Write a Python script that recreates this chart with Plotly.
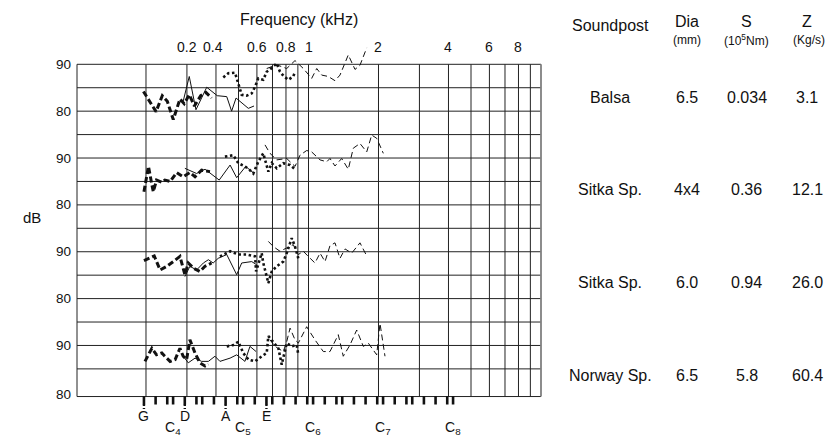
import math
import plotly.graph_objects as go

# ---------------- data ----------------
grid_khz = [0.2, 0.3, 0.4, 0.5, 0.6, 0.7, 0.8, 0.9, 1, 2, 3, 4, 5, 6, 7, 8, 9, 10]
grid_db = [90, 85, 80, 75, 70, 65, 60, 55, 50, 45, 40, 35, 30, 25, 19.1]
top_tick_text = ["0.2", "0.4", "0.6", "0.8", "1", "2", "4", "6", "8"]
top_tick_pos_khz = [0.3, 0.39, 0.6, 0.8, 1, 2, 4, 6, 8]
ytick_text = ["90", "80", "90", "80", "90", "80", "90", "80"]
ytick_pos = [90, 80, 70, 60, 50, 40, 30, 19.6]

# white piano keys G3 .. C8 (kHz)
key_khz = [0.196, 0.220, 0.2469, 0.2616, 0.2937, 0.3296, 0.3492, 0.392, 0.440, 0.4939,
           0.5233, 0.5873, 0.6593, 0.6985, 0.784, 0.880, 0.9878, 1.0465, 1.1747, 1.3185,
           1.3969, 1.568, 1.760, 1.9755, 2.093, 2.349, 2.637, 2.794, 3.136, 3.520, 3.951, 4.186]
open_string_names = ["G", "D", "A", "E"]
open_string_khz = [0.196, 0.2937, 0.440, 0.6593]
c_note_names = ["C<sub>4</sub>", "C<sub>5</sub>", "C<sub>6</sub>", "C<sub>7</sub>", "C<sub>8</sub>"]
c_note_khz = [0.2616, 0.5233, 1.0465, 2.093, 4.186]

soundposts = ["Balsa", "Sitka Sp.", "Sitka Sp.", "Norway Sp."]
dia = ["6.5", "4x4", "6.0", "6.5"]
stiffness = ["0.034", "0.36", "0.94", "5.8"]
impedance = ["3.1", "12.1", "26.0", "60.4"]

balsa_low_khz = [0.195, 0.221, 0.235, 0.247, 0.262, 0.280, 0.292, 0.307, 0.323, 0.344, 0.362, 0.383]
balsa_low_db = [84.2, 79.9, 83.3, 82.1, 78.2, 82.6, 81.6, 83.5, 81.1, 83.3, 84.0, 82.8]
balsa_mid_khz = [0.289, 0.307, 0.328, 0.365, 0.405, 0.445, 0.467, 0.488, 0.551, 0.583]
balsa_mid_db = [82.1, 87.4, 80.3, 85.1, 83.3, 83.1, 80.0, 82.8, 80.6, 81.1]
balsa_upper_khz = [0.430, 0.452, 0.483, 0.499, 0.516, 0.542, 0.570, 0.589, 0.608, 0.639, 0.661, 0.683, 0.730, 0.754, 0.785, 0.819, 0.860, 0.875]
balsa_upper_db = [87.2, 88.1, 88.2, 86.0, 83.5, 83.3, 83.8, 85.2, 87.0, 86.7, 88.4, 88.9, 90.2, 88.4, 87.4, 86.7, 87.4, 88.4]
balsa_high_khz = [0.661, 0.730, 0.806, 0.875, 0.950, 1.032, 1.085, 1.140, 1.217, 1.300, 1.366, 1.411, 1.483, 1.585, 1.665, 1.780]
balsa_high_db = [89.1, 89.9, 89.1, 90.8, 89.1, 87.0, 89.1, 87.7, 87.4, 86.5, 87.7, 89.5, 92.0, 88.9, 89.8, 93.5]

sitka44_low_khz = [0.196, 0.205, 0.212, 0.215, 0.222, 0.234, 0.241, 0.254, 0.271, 0.289, 0.309, 0.325, 0.347, 0.377]
sitka44_low_db = [82.8, 88.2, 84.3, 82.8, 85.3, 84.8, 85.3, 85.0, 86.9, 86.0, 86.9, 86.0, 87.4, 87.1]
sitka44_mid_khz = [0.294, 0.330, 0.359, 0.413, 0.460, 0.491, 0.537, 0.583]
sitka44_mid_db = [87.8, 86.7, 87.6, 85.3, 88.5, 85.8, 88.2, 86.7]
sitka44_upper_khz = [0.437, 0.475, 0.499, 0.533, 0.560, 0.579, 0.608, 0.639, 0.672, 0.695, 0.730, 0.779, 0.833, 0.875]
sitka44_upper_db = [90.3, 90.6, 88.9, 88.2, 87.4, 86.7, 89.2, 91.0, 87.1, 88.9, 87.8, 88.9, 88.5, 87.6]
sitka44_high_khz = [0.650, 0.683, 0.730, 0.806, 0.875, 0.919, 0.982, 1.032, 1.121, 1.198, 1.237, 1.300, 1.389, 1.483, 1.558, 1.665, 1.780, 1.870, 1.965, 2.098]
sitka44_high_db = [92.8, 91.0, 89.6, 89.9, 88.2, 90.6, 91.6, 91.3, 89.6, 89.2, 89.9, 88.3, 89.9, 87.6, 92.1, 93.1, 91.3, 94.9, 94.2, 91.0]

sitka60_low_khz = [0.196, 0.217, 0.230, 0.246, 0.262, 0.280, 0.294, 0.304, 0.320, 0.341, 0.359, 0.383]
sitka60_low_db = [88.1, 89.1, 86.1, 86.9, 87.9, 89.0, 85.1, 87.6, 86.5, 85.8, 86.9, 87.6]
sitka60_mid_khz = [0.294, 0.309, 0.330, 0.353, 0.371, 0.389, 0.409, 0.445, 0.491, 0.516, 0.570, 0.599]
sitka60_mid_db = [84.7, 86.9, 86.1, 87.6, 88.3, 87.6, 88.6, 89.4, 85.1, 87.6, 87.9, 87.2]
sitka60_upper_khz = [0.416, 0.460, 0.499, 0.542, 0.589, 0.595, 0.629, 0.639, 0.672, 0.695, 0.730, 0.779, 0.806, 0.847, 0.875, 0.904]
sitka60_upper_db = [89.0, 90.1, 89.4, 89.4, 89.0, 85.8, 89.7, 87.6, 83.3, 85.8, 86.9, 87.9, 89.7, 92.9, 91.1, 88.6]
sitka60_high_khz = [0.672, 0.706, 0.754, 0.806, 0.860, 0.904, 0.950, 0.998, 1.066, 1.121, 1.178, 1.237, 1.300, 1.366, 1.436, 1.534, 1.665, 1.780]
sitka60_high_db = [92.2, 91.1, 90.1, 90.8, 91.5, 89.4, 90.1, 89.0, 87.6, 89.7, 87.9, 91.3, 91.9, 88.6, 90.6, 89.7, 91.9, 89.1]

norway_low_khz = [0.198, 0.212, 0.222, 0.234, 0.241, 0.254, 0.267, 0.280, 0.289, 0.299, 0.309, 0.325, 0.341, 0.359, 0.371]
norway_low_db = [86.6, 89.4, 88.0, 88.4, 87.7, 86.6, 87.0, 89.4, 87.7, 87.0, 91.2, 88.4, 86.3, 85.6, 86.0]
norway_mid_khz = [0.289, 0.304, 0.325, 0.347, 0.371, 0.396, 0.416, 0.460, 0.491, 0.533, 0.560, 0.595]
norway_mid_db = [87.7, 86.3, 87.3, 86.6, 86.6, 87.7, 86.6, 87.3, 88.0, 86.6, 89.8, 88.7]
norway_upper_khz = [0.445, 0.475, 0.499, 0.524, 0.551, 0.589, 0.629, 0.661, 0.672, 0.706, 0.742, 0.767, 0.792, 0.806, 0.847, 0.890, 0.904]
norway_upper_db = [89.8, 90.1, 90.8, 88.4, 87.0, 86.6, 87.7, 88.4, 92.0, 90.8, 89.4, 85.9, 88.7, 90.5, 89.8, 90.1, 88.0]
norway_high_khz = [0.683, 0.718, 0.779, 0.806, 0.833, 0.875, 0.904, 0.982, 1.066, 1.158, 1.237, 1.343, 1.411, 1.508, 1.612, 1.721, 1.808, 1.965, 2.030, 2.133]
norway_high_db = [91.2, 89.8, 88.7, 90.8, 93.7, 91.2, 90.5, 94.0, 91.2, 88.7, 88.7, 92.3, 87.7, 90.1, 93.3, 89.8, 90.5, 88.0, 94.7, 87.7]

# ---------------- layout constants ----------------
W, H = 831, 439
PX0, PX_DEC = 308.5, 232.5          # x pixel of 1 kHz, pixels per decade
PY90, PY_DB = 64.3, 4.686           # y pixel of top 90 dB line, pixels per dB
PANEL_SHIFT = 20                    # dB between stacked panels
LEFT_KHZ = 0.101
FONT = "Arial, 'Liberation Sans', sans-serif"
INK = "#111111"

x_range = [-PX0 / PX_DEC, (W - PX0) / PX_DEC]
y_range = [90 - (H - PY90) / PY_DB, 90 + PY90 / PY_DB]


def v_of_py(p):
    return 90 - (p - PY90) / PY_DB


def paper_x(p):
    return p / W


def paper_y(p):
    return 1 - p / H


def text(t, x, y, size, xref="paper", yref="paper", xanchor="center", xshift=0):
    return dict(text=t, x=x, y=y, xref=xref, yref=yref, xanchor=xanchor, yanchor="middle",
                xshift=xshift, showarrow=False, font=dict(size=size, color=INK, family=FONT))


fig = go.Figure()

# grid
hx, hy = [], []
for v in grid_db:
    hx += [LEFT_KHZ, 10, None]
    hy += [v, v, None]
fig.add_trace(go.Scatter(x=hx, y=hy, mode="lines", line=dict(color="#222222", width=1),
                         hoverinfo="skip", showlegend=False))
vx, vy = [], []
for f in [LEFT_KHZ] + grid_khz[:-1]:
    vx += [f, f, None]
    vy += [grid_db[-1], 90, None]
fig.add_trace(go.Scatter(x=vx, y=vy, mode="lines", line=dict(color="#222222", width=1),
                         hoverinfo="skip", showlegend=False))
fig.add_trace(go.Scatter(x=[10, 10], y=[grid_db[-1], 90], mode="lines",
                         line=dict(color="#808080", width=1.8), hoverinfo="skip", showlegend=False))

# curves
thick_dash = dict(color=INK, width=3, dash="6px,3px")
thin_solid = dict(color=INK, width=1)
thick_dot = dict(color=INK, width=2.6, dash="2.5px,2.6px")
thin_dash = dict(color=INK, width=1, dash="6px,3.5px")

panels = [
    (balsa_low_khz, balsa_low_db, balsa_mid_khz, balsa_mid_db, balsa_upper_khz, balsa_upper_db, balsa_high_khz, balsa_high_db),
    (sitka44_low_khz, sitka44_low_db, sitka44_mid_khz, sitka44_mid_db, sitka44_upper_khz, sitka44_upper_db, sitka44_high_khz, sitka44_high_db),
    (sitka60_low_khz, sitka60_low_db, sitka60_mid_khz, sitka60_mid_db, sitka60_upper_khz, sitka60_upper_db, sitka60_high_khz, sitka60_high_db),
    (norway_low_khz, norway_low_db, norway_mid_khz, norway_mid_db, norway_upper_khz, norway_upper_db, norway_high_khz, norway_high_db),
]
styles = [thick_dash, thin_solid, thick_dot, thin_dash]
for k, p in enumerate(panels):
    off = PANEL_SHIFT * k
    for j, st in enumerate(styles):
        xs, ys = p[2 * j], p[2 * j + 1]
        fig.add_trace(go.Scatter(x=xs, y=[v - off for v in ys], mode="lines", line=st,
                                 hoverinfo="skip", showlegend=False))

# piano key ticks
fig.add_trace(go.Scatter(x=key_khz, y=[v_of_py(400.3)] * len(key_khz), mode="markers",
                         marker=dict(symbol="line-ns", size=6, line=dict(color=INK, width=2.6)),
                         hoverinfo="skip", showlegend=False))
ox, oy = [], []
for f in open_string_khz:
    ox += [f, f, None]
    oy += [v_of_py(404), v_of_py(409), None]
fig.add_trace(go.Scatter(x=ox, y=oy, mode="lines", line=dict(color=INK, width=2.4, dash="2px,2px"),
                         hoverinfo="skip", showlegend=False))

ann = []
ann.append(text("Frequency (kHz)", paper_x(298.5), paper_y(20), 16))
for t, f in zip(top_tick_text, top_tick_pos_khz):
    ann.append(text(t, math.log10(f), paper_y(47), 14, xref="x"))
for t, v in zip(ytick_text, ytick_pos):
    ann.append(text(t, paper_x(73), v, 13.5, yref="y", xanchor="right"))
ann.append(text("dB", paper_x(32), paper_y(218), 15))
for t, f in zip(open_string_names, open_string_khz):
    ann.append(text(t, math.log10(f), paper_y(416), 14, xref="x"))
for t, f in zip(c_note_names, c_note_khz):
    ann.append(text(t, math.log10(f), paper_y(427.5), 14, xref="x", xshift=0))

# table
col_x = [610, 686.5, 746.5, 807]
ann.append(text("Soundpost", paper_x(col_x[0]), paper_y(25), 16))
for t, u, cx in zip(["Dia", "S", "Z"], ["(mm)", "(10<sup>5</sup>Nm)", "(Kg/s)"], col_x[1:]):
    ann.append(text(t, paper_x(cx), paper_y(21.5), 16))
    ann.append(text(u, paper_x(cx + (2 if u == "(Kg/s)" else 0)), paper_y(40), 12))
row_y = [97, 189, 282, 375]
for name, d, s, z, ry in zip(soundposts, dia, stiffness, impedance, row_y):
    for t, cx in zip([name, d, s, z], col_x):
        ann.append(text(t, paper_x(cx), paper_y(ry), 16))

fig.update_layout(
    width=W, height=H, autosize=False,
    margin=dict(l=0, r=0, t=0, b=0, pad=0),
    paper_bgcolor="white", plot_bgcolor="white",
    xaxis=dict(type="log", range=x_range, visible=False, fixedrange=True),
    yaxis=dict(range=y_range, visible=False, fixedrange=True),
    annotations=ann,
    showlegend=False,
)

fig.write_html("out.html", config={"displayModeBar": False},
               post_script="document.body.style.margin='0';document.body.style.overflow='hidden';")
